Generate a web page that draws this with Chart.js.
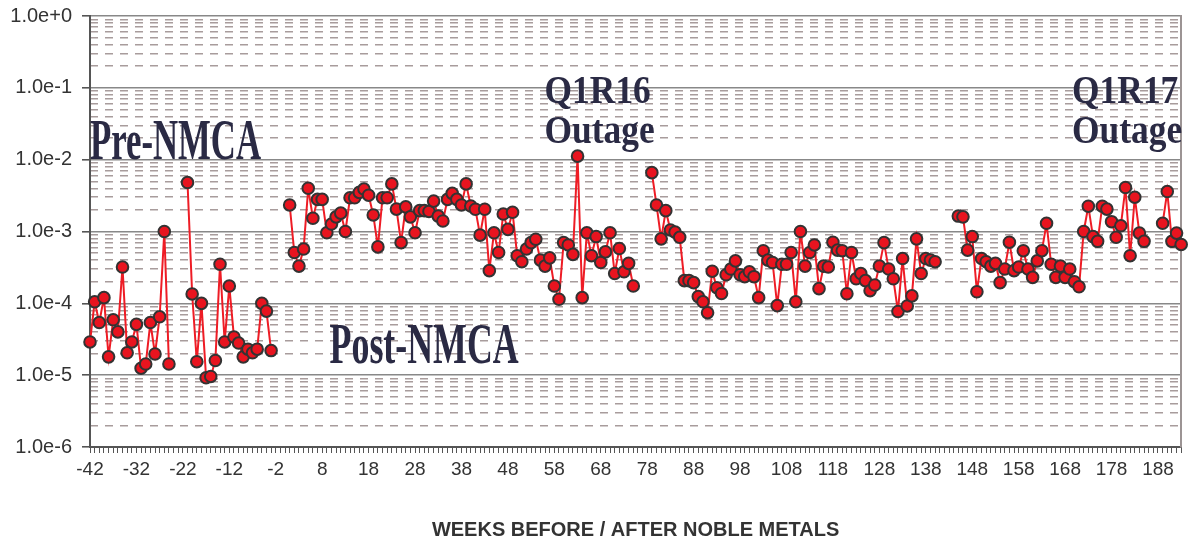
<!DOCTYPE html>
<html>
<head>
<meta charset="utf-8">
<script src="https://cdn.jsdelivr.net/npm/chart.js@4"></script>
<style>
  html, body { margin: 0; padding: 0; background: #fff; }
  #wrap { width: 1189px; height: 544px; position: relative; }
</style>
</head>
<body>
<div id="wrap"><canvas id="chart"></canvas></div>
<script>
// weeks before / after noble metals application
const firstWeek = -42
const lastWeek = 193

// measured values, one array per unbroken run of weeks
const preRunA = [2.9e-5, 1.05e-4, 5.4e-5, 1.2e-4, 1.8e-5, 5.9e-5, 4.0e-5, 3.2e-4, 2.05e-5, 2.9e-5,
  5.1e-5, 1.25e-5, 1.43e-5, 5.4e-5, 1.97e-5, 6.5e-5, 1.0e-3, 1.43e-5]
const preRunB = [4.8e-3, 1.35e-4, 1.54e-5, 1.0e-4, 9.2e-6, 9.6e-6, 1.6e-5, 3.5e-4, 2.9e-5, 1.74e-4,
  3.4e-5, 2.8e-5, 1.8e-5, 2.3e-5, 2.05e-5, 2.3e-5, 1.0e-4, 7.8e-5, 2.2e-5]
const postRunA = [2.34e-3, 5.1e-4, 3.3e-4, 5.7e-4, 4.0e-3, 1.53e-3, 2.8e-3, 2.8e-3, 9.6e-4, 1.27e-3,
  1.6e-3, 1.8e-3, 1.0e-3, 2.95e-3, 2.95e-3, 3.5e-3, 3.9e-3, 3.2e-3, 1.7e-3, 6.1e-4,
  2.95e-3, 2.95e-3, 4.6e-3, 2.05e-3, 7.0e-4, 2.2e-3, 1.6e-3, 9.6e-4, 1.95e-3, 1.95e-3,
  1.9e-3, 2.65e-3, 1.64e-3, 1.4e-3, 2.8e-3, 3.4e-3, 2.8e-3, 2.34e-3, 4.6e-3, 2.26e-3,
  2.04e-3, 8.9e-4, 2.04e-3, 2.85e-4, 9.6e-4, 5.1e-4, 1.75e-3, 1.07e-3, 1.85e-3, 4.6e-4,
  3.8e-4, 5.7e-4, 7.0e-4, 7.8e-4, 4.0e-4, 3.3e-4, 4.3e-4, 1.74e-4, 1.14e-4, 7.0e-4,
  6.5e-4, 4.8e-4, 1.12e-2, 1.2e-4, 9.6e-4, 4.6e-4, 8.5e-4, 3.7e-4, 5.2e-4, 9.6e-4,
  2.6e-4, 5.8e-4, 2.75e-4, 3.6e-4, 1.74e-4]
const postRunB = [6.6e-3, 2.34e-3, 7.9e-4, 1.95e-3, 1.05e-3, 9.8e-4, 8.3e-4, 2.07e-4, 2.07e-4, 1.94e-4,
  1.24e-4, 1.05e-4, 7.4e-5, 2.8e-4, 1.65e-4, 1.37e-4, 2.5e-4, 3.0e-4, 3.9e-4, 2.5e-4,
  2.35e-4, 2.75e-4, 2.35e-4, 1.2e-4, 5.4e-4, 4.0e-4, 3.7e-4, 9.3e-5, 3.5e-4, 3.5e-4,
  5.1e-4, 1.05e-4, 1.0e-3, 3.3e-4, 5.1e-4, 6.5e-4, 1.6e-4, 3.3e-4, 3.2e-4, 7.1e-4,
  5.5e-4, 5.4e-4, 1.36e-4, 5.1e-4, 2.2e-4, 2.6e-4, 2.07e-4, 1.5e-4, 1.8e-4, 3.3e-4,
  7.0e-4, 3.0e-4, 2.2e-4, 7.7e-5, 4.2e-4, 9.2e-5, 1.27e-4, 7.9e-4, 2.6e-4, 4.2e-4,
  4.0e-4, 3.8e-4]
const postRunC = [1.64e-3, 1.6e-3, 5.5e-4, 8.5e-4, 1.45e-4, 4.2e-4, 3.8e-4, 3.3e-4, 3.6e-4, 1.94e-4,
  3.0e-4, 7.1e-4, 2.85e-4, 3.2e-4, 5.4e-4, 3.0e-4, 2.3e-4, 3.9e-4, 5.4e-4, 1.3e-3,
  3.5e-4, 2.3e-4, 3.3e-4, 2.3e-4, 3.0e-4, 2.0e-4, 1.7e-4, 1.0e-3, 2.25e-3, 8.5e-4,
  7.3e-4, 2.25e-3, 2.05e-3, 1.37e-3, 8.3e-4, 1.2e-3, 4.1e-3, 4.6e-4, 3.0e-3, 9.5e-4,
  7.3e-4]
const postRunD = [1.3e-3, 3.6e-3, 7.3e-4, 9.5e-4, 6.6e-4]

// first week of each run
const runs = [
  { start: -42, values: preRunA },
  { start: -21, values: preRunB },
  { start: 1, values: postRunA },
  { start: 79, values: postRunB },
  { start: 145, values: postRunC },
  { start: 189, values: postRunD },
]

// y axis: decade exponents and the minor steps inside each decade
const decades = [-6, -5, -4, -3, -2, -1, 0]
const minorSteps = [2, 3, 4, 5, 6, 7, 8, 9]

const weeks = []
for (let w = firstWeek; w <= lastWeek; w++) weeks.push(String(w))

const series = weeks.map(() => null)
runs.forEach(run => {
  run.values.forEach((v, i) => { series[run.start - firstWeek + i] = v })
})

const yTickValues = []
decades.forEach((d, i) => {
  yTickValues.push(Math.pow(10, d))
  if (i < decades.length - 1) minorSteps.forEach(m => yTickValues.push(m * Math.pow(10, d)))
})

function isDecade(v) {
  const e = Math.log10(v)
  return Math.abs(e - Math.round(e)) < 1e-6
}

function sci(v) {
  const e = Math.round(Math.log10(v))
  return '1.0e' + (e >= 0 ? '+' : '') + e
}

const sans = '"Liberation Sans", Arial, sans-serif'
const serif = '"Liberation Serif", "Times New Roman", serif'

const notes = [
  { lines: ['Pre-NMCA'], week: -42, value: 1.02e-2, size: 56, squeeze: 0.62 },
  { lines: ['Post-NMCA'], week: 9.6, value: 1.5e-5, size: 56, squeeze: 0.64 },
  { lines: ['Q1R16', 'Outage'], week: 55.9, value: 0.0615, size: 40, squeeze: 0.885 },
  { lines: ['Q1R17', 'Outage'], week: 169.5, value: 0.0615, size: 40, squeeze: 0.885 },
]

const notesPlugin = {
  id: 'notes',
  beforeDatasetsDraw(chart) {
    const {ctx, scales} = chart
    ctx.save()
    ctx.fillStyle = '#2a2a44'
    ctx.textBaseline = 'alphabetic'
    ctx.textAlign = 'left'
    notes.forEach(n => {
      const x = scales.x.getPixelForValue(n.week - firstWeek)
      const y = scales.y.getPixelForValue(n.value)
      ctx.font = 'bold ' + n.size + 'px ' + serif
      n.lines.forEach((line, i) => {
        ctx.save()
        ctx.translate(x, y + i * n.size)
        ctx.scale(n.squeeze, 1)
        ctx.fillText(line, 0, 0)
        ctx.restore()
      })
    })
    ctx.restore()
  }
}

const config = {
  type: 'line',
  data: {
    labels: weeks,
    datasets: [{
      data: series,
      yAxisID: 'y',
      borderColor: '#ee1c25',
      borderWidth: 2,
      pointRadius: 5.8,
      pointBorderWidth: 2,
      pointBackgroundColor: '#e8141f',
      pointBorderColor: '#333333',
      spanGaps: false,
      tension: 0,
    }]
  },
  options: {
    responsive: true,
    maintainAspectRatio: false,
    animation: false,
    layout: { padding: { top: 16, right: 7, left: 0, bottom: 0 } },
    plugins: {
      legend: { display: false },
      tooltip: { enabled: false },
    },
    scales: {
      x: {
        type: 'category',
        offset: false,
        afterFit: s => { s.height = 97; s.paddingLeft = 0; s.paddingRight = 0 },
        border: { color: '#555', width: 2 },
        grid: { drawOnChartArea: false, offset: false, tickLength: 6, tickColor: '#555', tickWidth: 1 },
        ticks: {
          autoSkip: false,
          maxRotation: 0,
          padding: 5,
          color: '#333',
          font: { family: sans, size: 19 },
          callback: (v, i) => (i % 10 === 0 ? weeks[i] : ''),
        },
        title: {
          display: true,
          text: 'WEEKS BEFORE / AFTER NOBLE METALS',
          color: '#333',
          font: { family: sans, size: 20, weight: 'bold' },
          padding: { top: 0, bottom: 2 },
        },
      },
      y: {
        type: 'logarithmic',
        position: 'left',
        min: 1e-6,
        max: 1,
        afterFit: s => { s.width = 90; s.paddingTop = 0; s.paddingBottom = 0 },
        afterBuildTicks: s => { s.ticks = yTickValues.map(v => ({ value: v })) },
        border: { color: '#555', width: 2 },
        grid: {
          color: c => (c.tick && isDecade(c.tick.value) ? '#888' : 'transparent'),
          tickColor: c => (c.tick && isDecade(c.tick.value) ? '#555' : 'transparent'),
          lineWidth: 1.6,
          tickLength: 8,
        },
        ticks: {
          autoSkip: false,
          padding: 10,
          color: '#333',
          font: { family: sans, size: 20 },
          callback: v => (isDecade(v) ? sci(v) : ''),
        },
      },
      y2: {
        type: 'logarithmic',
        position: 'right',
        min: 1e-6,
        max: 1,
        afterFit: s => { s.paddingTop = 0; s.paddingBottom = 0 },
        afterBuildTicks: s => { s.ticks = yTickValues.map(v => ({ value: v })) },
        border: { display: true, color: '#9c9494', width: 2, dash: [8, 7] },
        grid: {
          color: c => (c.tick && !isDecade(c.tick.value) ? '#a89c9c' : 'transparent'),
          lineWidth: 1.5,
          drawTicks: false,
        },
        ticks: { display: false },
      },
    },
  },
  plugins: [notesPlugin],
}

new Chart(document.getElementById('chart').getContext('2d'), config)
</script>
</body>
</html>
